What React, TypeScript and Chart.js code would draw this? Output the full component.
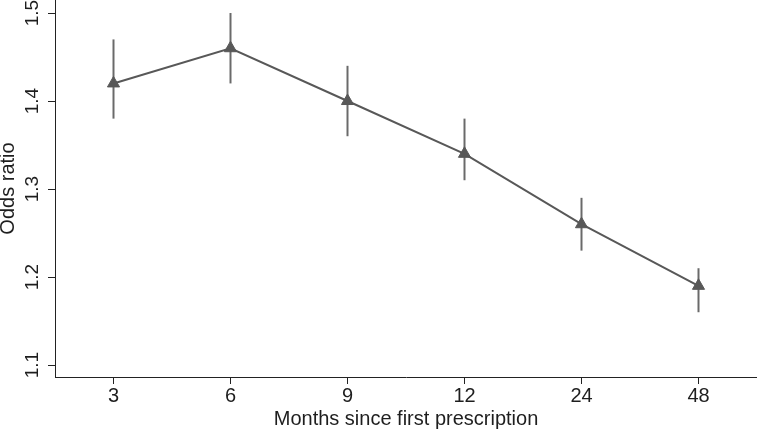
import React, { useEffect, useRef } from "react";
import { Chart, registerables } from "chart.js";

Chart.register(...registerables);

const categories = ["3", "6", "9", "12", "24", "48"];
const oddsRatio = [1.42, 1.46, 1.40, 1.34, 1.26, 1.19];
const lowerCI = [1.38, 1.42, 1.36, 1.31, 1.23, 1.16];
const upperCI = [1.47, 1.50, 1.44, 1.38, 1.29, 1.21];
const yTicks = [1.1, 1.2, 1.3, 1.4, 1.5];
const yMin = 1.0864;
const yMax = 1.5148;

const FONT = "'Liberation Sans', Arial, Helvetica, sans-serif";
const TEXT = "#1e1e1e";

const errorBarPlugin = {
  id: "errorBars",
  beforeDatasetsDraw(chart: any) {
    const { ctx, scales } = chart;
    const xs = scales.x;
    const ys = scales.y;
    ctx.save();
    ctx.strokeStyle = "#6a6a6a";
    ctx.lineWidth = 2;
    categories.forEach((_, i) => {
      const x = xs.getPixelForValue(i);
      ctx.beginPath();
      ctx.moveTo(x, ys.getPixelForValue(lowerCI[i]));
      ctx.lineTo(x, ys.getPixelForValue(upperCI[i]));
      ctx.stroke();
    });
    ctx.restore();
  },
  afterDraw(chart: any) {
    const { ctx, scales } = chart;
    const ys = scales.y;
    ctx.save();
    ctx.fillStyle = TEXT;
    ctx.font = `19px ${FONT}`;
    ctx.textAlign = "center";
    ctx.textBaseline = "alphabetic";
    yTicks.forEach((v) => {
      const y = ys.getPixelForValue(v);
      ctx.save();
      ctx.translate(38, y);
      ctx.rotate(-Math.PI / 2);
      ctx.fillText(v.toFixed(1), 0, 0);
      ctx.restore();
    });
    ctx.restore();
  },
};

export default function App() {
  const ref = useRef<HTMLCanvasElement | null>(null);
  useEffect(() => {
    if (!ref.current) return;
    const chart = new Chart(ref.current, {
      type: "line",
      data: {
        labels: categories,
        datasets: [
          {
            data: oddsRatio,
            borderColor: "#585858",
            borderWidth: 2,
            backgroundColor: "#585858",
            pointStyle: "triangle",
            pointRadius: 7,
            pointBorderWidth: 1,
            pointBackgroundColor: "#585858",
            pointBorderColor: "#585858",
            tension: 0,
            clip: false,
          },
        ],
      },
      options: {
        responsive: false,
        animation: false,
        events: [],
        layout: { padding: 0, autoPadding: false },
        plugins: {
          legend: { display: false },
          tooltip: { enabled: false },
        },
        scales: {
          x: {
            type: "category",
            offset: true,
            afterFit(scale: any) {
              scale.height = 53;
            },
            grid: {
              display: true,
              drawOnChartArea: false,
              drawTicks: true,
              tickLength: 7,
              color: "#222",
              offset: false,
            },
            border: { display: true, color: "#222", width: 1 },
            ticks: {
              color: TEXT,
              font: { family: FONT, size: 20 },
              padding: 0,
              maxRotation: 0,
              minRotation: 0,
            },
            title: {
              display: true,
              text: "Months since first prescription",
              color: TEXT,
              font: { family: FONT, size: 20, lineHeight: 1.1 },
              padding: { top: 0, bottom: 0 },
            },
          },
          y: {
            type: "linear",
            min: yMin,
            max: yMax,
            afterFit(scale: any) {
              scale.width = 55;
            },
            afterBuildTicks(scale: any) {
              scale.ticks = yTicks.map((v) => ({ value: v }));
            },
            grid: {
              display: true,
              drawOnChartArea: false,
              drawTicks: true,
              tickLength: 7,
              color: "#222",
            },
            border: { display: true, color: "#222", width: 1 },
            ticks: {
              display: false,
            },
            title: {
              display: true,
              text: "Odds ratio",
              color: TEXT,
              font: { family: FONT, size: 20, lineHeight: 0.85 },
              padding: { top: 0, bottom: 0 },
            },
          },
        },
      },
      plugins: [errorBarPlugin],
    });
    return () => chart.destroy();
  }, []);
  return (
    <div style={{ position: "absolute", left: 0, top: 0, width: 757, height: 430, background: "#fff" }}>
      <canvas ref={ref} width={757} height={430} style={{ display: "block" }} />
    </div>
  );
}
